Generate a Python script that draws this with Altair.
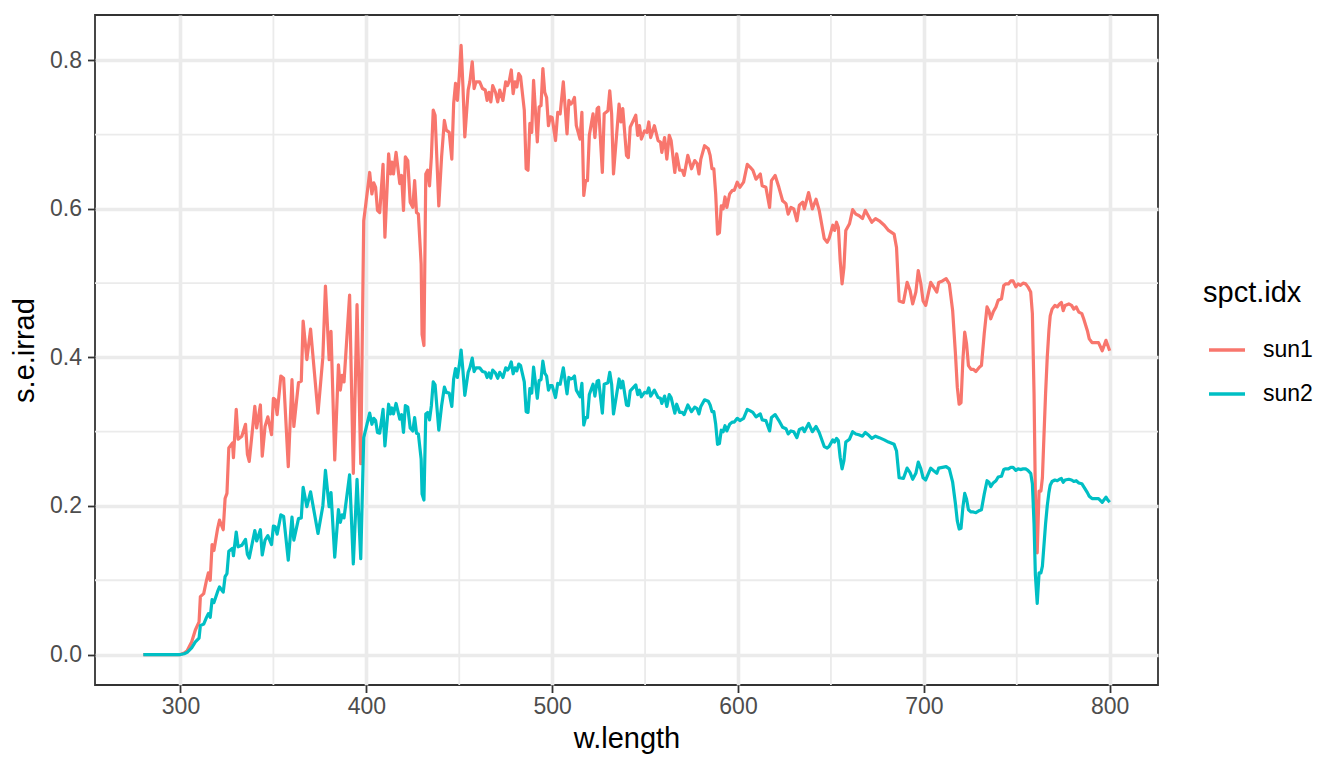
import altair as alt
import pandas as pd

# wavelength (nm)
wl = [280, 290, 298, 300, 302, 303.6, 306, 308, 310, 310.7,
      312.5, 314, 315, 316, 317, 318, 320, 321, 323, 324,
      325, 326, 328, 328.5, 330, 331, 333, 335, 336, 337,
      340, 341, 343, 344, 345.5, 347, 349, 350, 351, 352,
      354, 355.5, 358, 360, 361, 363.5, 365, 366, 368, 370,
      374, 376.6, 378, 380, 381, 383, 385, 386, 387, 388,
      391, 393, 395, 397, 398.6, 399.5, 401.8, 403, 404, 405,
      406, 407.2, 409, 410, 412, 413, 413.8, 414.6, 416, 418,
      419, 420, 421, 422.3, 423.6, 425, 426, 427, 428, 429.5,
      430, 431, 432, 433, 434, 435, 436, 437, 439, 440.5,
      442, 443, 444.6, 446, 447, 448, 449, 450, 451, 452,
      453, 454.8, 455.7, 457, 458, 459, 461, 462.5, 464, 465,
      466, 467, 468, 469.5, 470.7, 471.8, 473.5, 475, 476, 477,
      478, 479, 480, 481, 482, 483, 485, 486, 487, 488,
      489, 490, 492, 493, 494, 495, 496, 497, 498, 499,
      500, 501.8, 503, 504.3, 506, 508, 509, 510, 511, 512,
      513, 515, 516, 517, 518, 519, 520, 522, 523, 524.2,
      525, 527, 528, 530, 531, 532, 533, 536, 537, 538,
      540, 541, 542, 545, 546, 547, 548, 549.7, 551, 552,
      553, 555, 557, 558.3, 559, 560.5, 561.7, 563, 564, 566,
      567, 568.6, 570, 571, 573, 575, 576.7, 578, 579, 580,
      582, 584, 585, 586, 587, 588, 589, 590, 591, 592,
      593, 594, 595.5, 597, 598, 599.6, 601, 603, 605, 606.6,
      608, 609.7, 612, 613, 615, 617, 618, 620, 622, 624,
      625.8, 627, 628.5, 630, 631.7, 633, 634.8, 635.7, 638, 640,
      642, 643.7, 646.4, 648, 649, 651, 652, 653, 654, 655,
      656, 657, 658, 660, 661.7, 663.4, 665, 667, 668.5, 670,
      672, 674, 676, 678.7, 681, 684, 685.3, 686.7, 689, 691,
      692.6, 694, 695.7, 697, 698.4, 699.6, 701, 703.7, 705.5, 707,
      708, 710, 712, 713.7, 715.5, 717, 718, 719, 720, 721,
      722, 723, 724, 725.4, 726.6, 728, 730, 731, 732.5, 734,
      735, 736, 737.3, 738.8, 740, 741.8, 743, 744, 745.5, 746.8,
      748, 749.5, 750.7, 752, 753.4, 754.8, 756, 757.5, 758.4, 759.3,
      760, 761, 762, 763, 763.8, 764.6, 765.5, 766.4, 767.3, 768,
      769, 770.5, 771.8, 773, 774, 775, 776, 778, 779.5, 780.7,
      782, 783.4, 785, 786, 788, 789, 790.5, 792, 794, 796,
      798, 799, 800]

sun1 = [0, 0, 0, 0, 0.002, 0.005, 0.017, 0.033, 0.044, 0.078,
        0.082, 0.1, 0.11, 0.1, 0.148, 0.14, 0.17, 0.181, 0.168, 0.21,
        0.217, 0.278, 0.285, 0.265, 0.33, 0.29, 0.294, 0.31, 0.27, 0.26,
        0.334, 0.305, 0.336, 0.267, 0.307, 0.32, 0.296, 0.345, 0.343, 0.323,
        0.375, 0.372, 0.253, 0.37, 0.307, 0.366, 0.368, 0.449, 0.397, 0.438,
        0.325, 0.4, 0.496, 0.397, 0.435, 0.262, 0.39, 0.356, 0.376, 0.367,
        0.484, 0.244, 0.471, 0.257, 0.584, 0.602, 0.649, 0.62, 0.635, 0.629,
        0.598, 0.595, 0.66, 0.562, 0.674, 0.647, 0.663, 0.647, 0.676, 0.634,
        0.645, 0.598, 0.67, 0.665, 0.609, 0.602, 0.638, 0.595, 0.593, 0.526,
        0.431, 0.416, 0.647, 0.652, 0.631, 0.67, 0.733, 0.726, 0.604, 0.67,
        0.719, 0.706, 0.703, 0.667, 0.742, 0.769, 0.746, 0.778, 0.82, 0.764,
        0.697, 0.76, 0.771, 0.798, 0.762, 0.771, 0.771, 0.762, 0.76, 0.746,
        0.757, 0.744, 0.766, 0.757, 0.744, 0.76, 0.746, 0.771, 0.766, 0.773,
        0.787, 0.755, 0.771, 0.764, 0.782, 0.778, 0.733, 0.654, 0.652, 0.715,
        0.703, 0.773, 0.69, 0.737, 0.739, 0.789, 0.757, 0.75, 0.712, 0.724,
        0.723, 0.692, 0.73, 0.728, 0.771, 0.701, 0.746, 0.741, 0.744, 0.75,
        0.712, 0.694, 0.73, 0.618, 0.638, 0.638, 0.699, 0.728, 0.696, 0.735,
        0.737, 0.649, 0.728, 0.732, 0.759, 0.728, 0.647, 0.741, 0.717, 0.735,
        0.672, 0.669, 0.71, 0.726, 0.699, 0.712, 0.694, 0.705, 0.703, 0.717,
        0.696, 0.712, 0.692, 0.69, 0.676, 0.696, 0.667, 0.699, 0.692, 0.649,
        0.674, 0.652, 0.652, 0.645, 0.672, 0.654, 0.665, 0.661, 0.647, 0.667,
        0.685, 0.681, 0.672, 0.654, 0.654, 0.62, 0.566, 0.568, 0.604, 0.6,
        0.616, 0.602, 0.62, 0.625, 0.625, 0.636, 0.629, 0.636, 0.66, 0.656,
        0.652, 0.64, 0.647, 0.631, 0.629, 0.602, 0.638, 0.645, 0.629, 0.611,
        0.607, 0.593, 0.602, 0.6, 0.584, 0.605, 0.609, 0.6, 0.622, 0.6,
        0.613, 0.598, 0.56, 0.555, 0.56, 0.578, 0.571, 0.582, 0.575, 0.53,
        0.499, 0.521, 0.571, 0.58, 0.599, 0.593, 0.591, 0.587, 0.598, 0.591,
        0.582, 0.587, 0.584, 0.578, 0.571, 0.566, 0.548, 0.476, 0.474, 0.501,
        0.49, 0.472, 0.488, 0.517, 0.499, 0.476, 0.47, 0.501, 0.494, 0.488,
        0.501, 0.503, 0.506, 0.499, 0.463, 0.405, 0.36, 0.337, 0.339, 0.396,
        0.434, 0.418, 0.389, 0.384, 0.384, 0.381, 0.387, 0.389, 0.432, 0.468,
        0.463, 0.452, 0.461, 0.468, 0.477, 0.479, 0.497, 0.499, 0.499, 0.503,
        0.503, 0.495, 0.499, 0.497, 0.5, 0.499, 0.495, 0.488, 0.459, 0.351,
        0.216, 0.137, 0.22, 0.22, 0.238, 0.292, 0.351, 0.4, 0.436, 0.456,
        0.465, 0.47, 0.468, 0.472, 0.474, 0.463, 0.47, 0.472, 0.47, 0.465,
        0.468, 0.461, 0.459, 0.452, 0.436, 0.425, 0.42, 0.42, 0.42, 0.409,
        0.423, 0.416, 0.409]

sun2 = [0, 0, 0, 0, 0.001, 0.003, 0.009, 0.017, 0.022, 0.039,
        0.041, 0.05, 0.055, 0.05, 0.074, 0.07, 0.085, 0.091, 0.084, 0.105,
        0.109, 0.139, 0.143, 0.133, 0.165, 0.145, 0.147, 0.155, 0.135, 0.13,
        0.167, 0.153, 0.168, 0.134, 0.154, 0.16, 0.148, 0.173, 0.172, 0.162,
        0.188, 0.186, 0.127, 0.185, 0.154, 0.183, 0.184, 0.225, 0.199, 0.219,
        0.163, 0.2, 0.248, 0.199, 0.218, 0.131, 0.195, 0.178, 0.188, 0.184,
        0.242, 0.122, 0.236, 0.129, 0.292, 0.301, 0.325, 0.31, 0.318, 0.315,
        0.299, 0.298, 0.33, 0.281, 0.337, 0.324, 0.332, 0.324, 0.338, 0.317,
        0.323, 0.299, 0.335, 0.333, 0.305, 0.301, 0.319, 0.298, 0.297, 0.263,
        0.216, 0.208, 0.324, 0.326, 0.316, 0.335, 0.367, 0.363, 0.302, 0.335,
        0.36, 0.353, 0.352, 0.334, 0.371, 0.385, 0.373, 0.389, 0.41, 0.382,
        0.349, 0.38, 0.386, 0.399, 0.381, 0.386, 0.386, 0.381, 0.38, 0.373,
        0.379, 0.372, 0.383, 0.379, 0.372, 0.38, 0.373, 0.386, 0.383, 0.387,
        0.394, 0.378, 0.386, 0.382, 0.391, 0.389, 0.367, 0.327, 0.326, 0.358,
        0.352, 0.387, 0.345, 0.369, 0.37, 0.395, 0.379, 0.375, 0.356, 0.362,
        0.362, 0.346, 0.365, 0.364, 0.386, 0.351, 0.373, 0.371, 0.372, 0.375,
        0.356, 0.347, 0.365, 0.309, 0.319, 0.319, 0.35, 0.364, 0.348, 0.368,
        0.369, 0.325, 0.364, 0.366, 0.38, 0.364, 0.324, 0.371, 0.359, 0.368,
        0.336, 0.335, 0.355, 0.363, 0.35, 0.356, 0.347, 0.353, 0.352, 0.359,
        0.348, 0.356, 0.346, 0.345, 0.338, 0.348, 0.334, 0.35, 0.346, 0.325,
        0.337, 0.326, 0.326, 0.323, 0.336, 0.327, 0.333, 0.331, 0.324, 0.334,
        0.343, 0.341, 0.336, 0.327, 0.327, 0.31, 0.283, 0.284, 0.302, 0.3,
        0.308, 0.301, 0.31, 0.313, 0.313, 0.318, 0.315, 0.318, 0.33, 0.328,
        0.326, 0.32, 0.324, 0.316, 0.315, 0.301, 0.319, 0.323, 0.315, 0.306,
        0.304, 0.297, 0.301, 0.3, 0.292, 0.303, 0.305, 0.3, 0.311, 0.3,
        0.307, 0.299, 0.28, 0.278, 0.28, 0.289, 0.286, 0.291, 0.288, 0.265,
        0.25, 0.261, 0.286, 0.29, 0.3, 0.297, 0.296, 0.294, 0.299, 0.296,
        0.291, 0.294, 0.292, 0.289, 0.286, 0.283, 0.274, 0.238, 0.237, 0.251,
        0.245, 0.236, 0.244, 0.259, 0.25, 0.238, 0.235, 0.251, 0.247, 0.244,
        0.251, 0.252, 0.253, 0.25, 0.232, 0.203, 0.18, 0.169, 0.17, 0.198,
        0.217, 0.209, 0.195, 0.192, 0.192, 0.191, 0.194, 0.195, 0.216, 0.234,
        0.232, 0.226, 0.231, 0.234, 0.239, 0.24, 0.249, 0.25, 0.25, 0.252,
        0.252, 0.248, 0.25, 0.249, 0.25, 0.25, 0.248, 0.244, 0.23, 0.176,
        0.108, 0.069, 0.11, 0.11, 0.119, 0.146, 0.176, 0.2, 0.218, 0.228,
        0.233, 0.235, 0.234, 0.236, 0.237, 0.232, 0.235, 0.236, 0.235, 0.233,
        0.234, 0.231, 0.23, 0.226, 0.218, 0.213, 0.21, 0.21, 0.21, 0.205,
        0.212, 0.208, 0.205]

series = ["sun1", "sun2"]
colors = ["#F8766D", "#00BFC4"]
x_major = [300, 400, 500, 600, 700, 800]
x_minor = [350, 450, 550, 650, 750]
y_major = [0.0, 0.2, 0.4, 0.6, 0.8]
y_minor = [0.1, 0.3, 0.5, 0.7]

n = min(len(wl), len(sun1), len(sun2))
df = pd.DataFrame({
    "wl": wl[:n] + wl[:n],
    "irrad": sun1[:n] + sun2[:n],
    "idx": [series[0]] * n + [series[1]] * n,
})

FONT = "Liberation Sans"
xs = alt.Scale(domain=[254, 826], nice=False, zero=False)
ys = alt.Scale(domain=[-0.041, 0.861], nice=False, zero=False)
xa = alt.Axis(values=x_major, format="d", title="w.length", grid=True,
              gridColor="#EBEBEB", gridWidth=3.6, labelPadding=3, titlePadding=6)
ya = alt.Axis(values=y_major, format=".1f", title="s.e.irrad", grid=True,
              gridColor="#EBEBEB", gridWidth=3.6, labelPadding=6, titlePadding=10)

vgrid = alt.Chart(pd.DataFrame({"wl": x_minor})).mark_rule(
    color="#EBEBEB", strokeWidth=1.8).encode(x=alt.X("wl:Q", scale=xs, axis=xa))
hgrid = alt.Chart(pd.DataFrame({"irrad": y_minor})).mark_rule(
    color="#EBEBEB", strokeWidth=1.8).encode(y=alt.Y("irrad:Q", scale=ys, axis=ya))

lines = alt.Chart(df).mark_line(strokeWidth=3.2, strokeJoin="round").encode(
    x=alt.X("wl:Q", scale=xs, axis=xa),
    y=alt.Y("irrad:Q", scale=ys, axis=ya),
    color=alt.Color("idx:N", scale=alt.Scale(domain=series, range=colors),
                    legend=alt.Legend(title="spct.idx", orient="none",
                                      legendX=1108, legendY=264,
                                      symbolType="stroke", symbolSize=1296,
                                      symbolStrokeWidth=3.3, symbolOffset=4,
                                      labelOffset=16,
                                      titlePadding=22, rowPadding=12,
                                      titleFontSize=29, labelFontSize=23,
                                      titleFont=FONT, labelFont=FONT,
                                      titleFontWeight="normal",
                                      titleColor="black", labelColor="black")),
)

chart = alt.layer(vgrid, hgrid, lines).properties(
    width=1063, height=670,
    autosize=alt.AutoSizeParams(type="none"),
    padding={"left": 87, "top": 7, "right": 170, "bottom": 70},
    background="white",
).configure_view(
    stroke="#333333", strokeWidth=1.8
).configure_axis(
    labelFont=FONT, labelFontSize=23, labelColor="#4D4D4D",
    titleFont=FONT, titleFontSize=29, titleColor="black", titleFontWeight="normal",
    tickColor="#333333", tickWidth=1.8, tickSize=7.5, domain=False,
)

chart.save("out.html", embed_options={"renderer": "svg", "actions": False})
